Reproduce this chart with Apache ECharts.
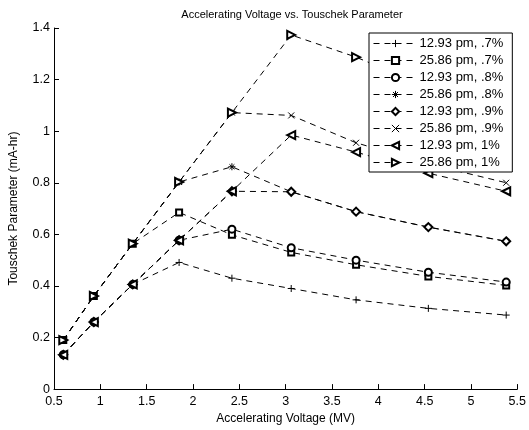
<!DOCTYPE html>
<html>
<head>
<meta charset="utf-8">
<script src="https://cdn.jsdelivr.net/npm/echarts@6/dist/echarts.min.js"></script>
<style>html,body{margin:0;padding:0;background:#fff}#c{width:529px;height:430px}</style>
</head>
<body>
<div id="c"></div>
<script>
const voltages = [0.6, 0.93, 1.35, 1.85, 2.42, 3.06, 3.76, 4.54, 5.38];
const s1293_07 = [0.133, 0.26, 0.406, 0.491, 0.43, 0.39, 0.346, 0.313, 0.287];
const s2586_07 = [0.19, 0.361, 0.564, 0.685, 0.598, 0.53, 0.482, 0.437, 0.402];
const s1293_08 = [0.133, 0.26, 0.406, 0.577, 0.62, 0.548, 0.5, 0.453, 0.415];
const s2586_08 = [0.19, 0.361, 0.564, 0.803, 0.862, 0.765, 0.688, 0.628, 0.573];
const s1293_09 = [0.133, 0.26, 0.406, 0.577, 0.767, 0.765, 0.688, 0.628, 0.573];
const s2586_09 = [0.19, 0.361, 0.564, 0.803, 1.072, 1.061, 0.955, 0.873, 0.80];
const s1293_10 = [0.133, 0.26, 0.406, 0.577, 0.767, 0.985, 0.919, 0.837, 0.767];
const s2586_10 = [0.19, 0.361, 0.564, 0.803, 1.072, 1.373, 1.287, 1.17, 1.07];
const seriesNames = ['12.93 pm, .7%', '25.86 pm, .7%', '12.93 pm, .8%', '25.86 pm, .8%',
                     '12.93 pm, .9%', '25.86 pm, .9%', '12.93 pm, 1%', '25.86 pm, 1%'];
const seriesValues = [s1293_07, s2586_07, s1293_08, s2586_08, s1293_09, s2586_09, s1293_10, s2586_10];
const xTicks = [0.5, 1, 1.5, 2, 2.5, 3, 3.5, 4, 4.5, 5, 5.5];
const yTicks = [0, 0.2, 0.4, 0.6, 0.8, 1, 1.2, 1.4];

const markers = [
  {symbol: 'path://M0,5L10,5M5,0L5,10', size: 7, rot: 0},
  {symbol: 'emptyRect', size: 6, rot: 0},
  {symbol: 'emptyCircle', size: 7, rot: 0},
  {symbol: 'path://M0,5L10,5M5,0L5,10M1.5,1.5L8.5,8.5M1.5,8.5L8.5,1.5', size: 7, rot: 0},
  {symbol: 'emptyDiamond', size: 8, rot: 0},
  {symbol: 'path://M0,0L10,10M0,10L10,0', size: 6, rot: 0},
  {symbol: 'emptyTriangle', size: 8, rot: 90},
  {symbol: 'emptyTriangle', size: 8, rot: -90}
];

const font = 'Liberation Sans, Arial, Helvetica, sans-serif';
const chart = echarts.init(document.getElementById('c'), null, {renderer: 'canvas'});
chart.setOption({
  animation: false,
  backgroundColor: '#fff',
  title: {
    text: 'Accelerating Voltage vs. Touschek Parameter',
    left: 287, top: 4, textAlign: 'center',
    textStyle: {fontSize: 11, fontWeight: 'normal', color: '#000', fontFamily: font}
  },
  grid: {left: 54, top: 28, width: 466, height: 368, containLabel: false},
  legend: {
    orient: 'vertical', left: 369, top: 33,
    backgroundColor: '#fff', borderColor: '#000', borderWidth: 1,
    padding: [4, 9, 3, 4], itemGap: 4, itemWidth: 44, itemHeight: 9,
    lineStyle: {width: 1},
    itemStyle: {borderWidth: 1},
    textStyle: {fontSize: 13, lineHeight: 13, color: '#000', fontFamily: font, padding: [0, 0, 0, -3]},
    data: seriesNames
  },
  xAxis: {
    type: 'value', min: 0.5, max: 5.5, interval: 0.5,
    name: 'Accelerating Voltage (MV)', nameLocation: 'middle', nameGap: 22,
    nameTextStyle: {fontSize: 12, color: '#000', fontFamily: font},
    axisLine: {onZero: false, lineStyle: {color: '#000', width: 1}},
    axisTick: {inside: true, length: 5, lineStyle: {color: '#000'}},
    axisLabel: {fontSize: 12.5, color: '#000', fontFamily: font, margin: 6,
      formatter: v => String(+v.toFixed(1))},
    splitLine: {show: false}
  },
  yAxis: {
    type: 'value', min: 0, max: 1.4, interval: 0.2,
    name: 'Touschek Parameter (mA-hr)', nameLocation: 'middle', nameGap: 34,
    nameTextStyle: {fontSize: 12, color: '#000', fontFamily: font},
    axisLine: {show: true, onZero: false, lineStyle: {color: '#000', width: 1}},
    axisTick: {show: true, inside: true, length: 5, lineStyle: {color: '#000'}},
    axisLabel: {fontSize: 12.5, color: '#000', fontFamily: font, margin: 4,
      formatter: v => String(+v.toFixed(1))},
    splitLine: {show: false}
  },
  series: seriesNames.map((name, i) => ({
    name: name,
    type: 'line',
    data: voltages.map((x, j) => [x, seriesValues[i][j]]),
    symbol: markers[i].symbol,
    symbolSize: markers[i].size,
    symbolRotate: markers[i].rot,
    showAllSymbol: true,
    lineStyle: {color: '#000', width: 1, type: [6, 5]},
    itemStyle: {color: '#000', borderColor: '#000', borderWidth: 1},
    emphasis: {disabled: true}
  }))
});
</script>
</body>
</html>
